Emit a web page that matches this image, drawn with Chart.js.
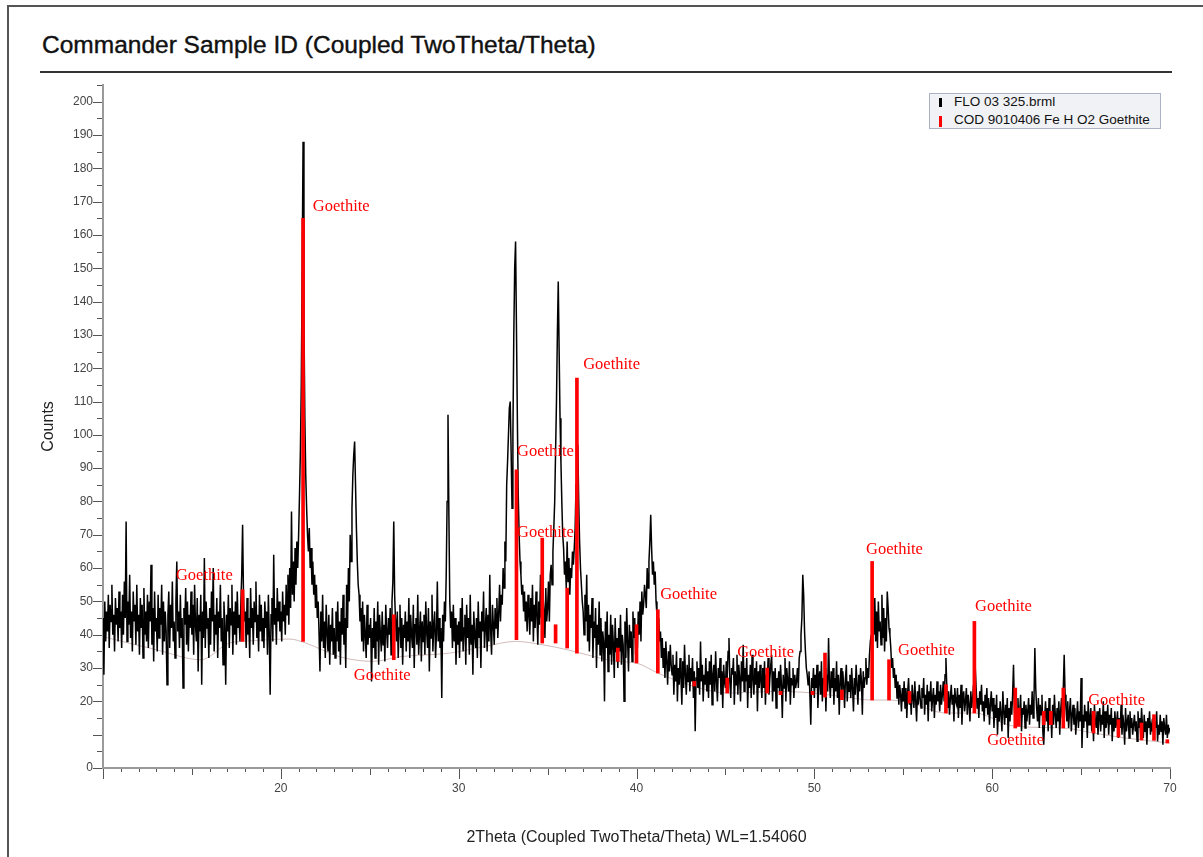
<!DOCTYPE html>
<html lang="en">
  <head>
    <meta charset="UTF-8" />
    <title>Commander Sample ID (Coupled TwoTheta/Theta)</title>
    <script src="https://cdn.jsdelivr.net/npm/chart.js"></script>
    <style>
      body { margin: 0; background: #fff; font-family: "Liberation Sans", Arial, sans-serif; }
      .moldura { position: absolute; left: 7px; top: 5px; width: 1300px; height: 900px;
        border-left: 2px solid #555; border-top: 2px solid #555; }
      .titulo { position: absolute; left: 42px; top: 30px; font-size: 24.5px; line-height: 30px; color: #111; white-space: nowrap; -webkit-text-stroke: 0.4px #111; }
      .regua { position: absolute; left: 40px; top: 71px; width: 1132px; height: 2px; background: #333; }
      #xrd { position: absolute; left: 0; top: 0; }
      .legenda { position: absolute; left: 929px; top: 93px; width: 230px; height: 34px;
        background: #f0f2f5; border: 1px solid #aab4c6; font-size: 13.5px; color: #111; }
      .legenda div { position: absolute; left: 24px; white-space: nowrap; line-height: 16px; }
      .legenda span { position: absolute; left: -15px; width: 3px; }
    </style>
  </head>

  <body>
    <div class="moldura"></div>
    <div class="titulo">Commander Sample ID (Coupled TwoTheta/Theta)</div>
    <div class="regua"></div>
    <canvas id="xrd" width="1203" height="857"></canvas>
    <div class="legenda">
      <div style="top: 0px"><span style="background:#000; top: 4px; height: 9px"></span>FLO 03 325.brml</div>
      <div style="top: 18px"><span style="background:#f00; top: 4px; height: 11px"></span>COD 9010406 Fe H O2 Goethite</div>
    </div>

    <script>
      // scan: 10 to 70 deg 2theta, one reading every 0.05 deg
      const scanInicio = 10;
      const scanPasso = 0.05;
      const contagens = [
        45,28,50,38,47,41,52,36,49,44,55,40,46,35,51,43,48,38,53,42,
        47,36,52,40,56,45,74,38,50,43,58,39,47,35,53,44,49,37,55,41,
        46,34,51,42,49,33,54,40,47,38,52,36,50,44,61,37,48,32,53,41,
        45,35,52,39,48,43,55,34,50,38,47,41,25,46,53,36,49,42,56,38,
        44,33,50,62,41,47,36,52,39,45,24,48,43,54,37,50,35,46,42,53,
        40,49,34,55,43,38,51,29,46,41,52,25,47,39,63,36,50,42,45,33,
        48,37,53,44,60,35,46,40,51,33,47,42,55,38,45,31,50,43,25,46,
        41,52,36,48,43,55,34,47,40,50,37,53,42,46,38,49,58,73,52,44,
        47,36,51,40,45,33,54,42,48,37,50,44,56,39,46,35,52,41,49,38,
        45,36,50,42,47,34,52,40,22,46,51,38,64,43,48,37,54,44,50,41,
        47,38,53,44,49,40,55,46,58,43,60,48,77,52,62,50,66,55,68,60,
        70,82,95,115,150,188,135,105,88,78,70,65,72,60,66,55,62,52,58,48,
        55,45,50,40,29,47,38,52,36,44,33,49,41,35,46,31,43,38,48,34,
        42,33,47,38,50,35,44,31,48,40,52,37,45,30,55,42,60,50,70,62,
        78,88,94,98,85,72,62,55,52,44,48,38,50,35,46,40,33,49,37,43,
        39,45,26,42,36,48,33,44,38,50,31,46,40,35,47,37,43,32,49,41,
        36,45,40,48,34,50,56,74,52,44,38,47,33,42,49,36,45,31,43,39,
        47,35,44,38,51,33,46,40,36,49,30,43,45,37,52,34,41,47,32,44,
        38,46,34,50,41,36,48,29,44,39,52,35,43,47,33,40,56,38,45,36,
        42,21,46,38,50,44,58,80,106,76,50,42,47,36,49,38,45,31,43,37,
        44,33,48,38,51,35,42,46,31,49,39,45,34,52,37,43,28,47,40,36,
        45,33,50,39,44,30,47,41,53,36,42,48,35,46,38,58,41,34,49,43,
        37,48,42,51,39,46,55,44,52,49,60,54,68,62,85,92,100,108,110,95,
        78,100,130,150,158,132,105,82,70,62,58,52,55,47,53,44,50,41,52,46,
        40,51,44,55,38,49,42,53,46,37,50,43,58,45,60,51,47,39,54,44,
        48,56,44,58,61,55,65,72,80,95,110,130,146,125,105,92,80,70,66,58,
        62,54,68,56,63,52,60,57,65,61,66,72,85,95,97,80,68,60,55,50,
        47,40,52,44,58,38,49,35,46,42,51,33,44,39,48,30,43,37,50,34,
        45,32,41,38,20,44,36,47,29,40,34,46,31,43,37,27,45,35,39,30,
        42,35,46,31,40,37,20,44,33,48,38,29,43,36,41,32,47,39,45,34,
        42,36,47,40,50,38,53,46,49,55,52,48,60,54,62,68,76,66,58,62,
        55,59,50,46,42,45,38,41,33,39,30,36,27,38,32,25,35,29,37,31,
        28,34,22,31,26,35,20,30,25,33,27,19,32,24,37,28,22,31,26,34,
        23,30,26,33,21,29,11,27,32,24,30,22,38,26,31,20,28,25,33,23,
        29,21,32,25,34,19,28,31,23,35,26,20,30,27,33,22,29,18,31,26,
        24,32,27,35,39,26,21,30,28,33,19,29,25,34,22,31,27,20,32,26,
        37,23,30,26,33,18,28,24,31,21,34,27,22,30,25,32,17,29,24,31,
        26,21,30,24,32,19,28,25,33,22,27,31,34,20,29,23,30,18,27,24,
        29,22,31,25,15,28,24,33,20,30,26,23,32,19,27,25,30,21,28,24,
        26,30,24,33,35,40,45,58,52,41,35,30,28,25,29,22,13,27,24,30,
        21,28,24,31,18,26,29,22,32,20,27,25,30,17,28,23,39,26,21,29,
        24,30,19,27,23,32,21,28,16,26,30,22,29,25,18,27,31,20,26,23,
        28,21,30,24,17,27,22,31,25,19,28,23,30,26,16,29,24,27,33,25,
        30,27,34,38,40,36,45,40,51,38,47,36,50,41,44,37,52,39,48,35,
        45,38,53,48,42,40,36,30,33,27,30,24,28,21,26,19,25,22,17,24,
        20,26,18,24,15,23,27,19,22,16,25,21,18,26,20,14,23,19,25,21,
        18,24,21,27,16,22,19,25,14,23,20,26,17,21,24,15,22,19,26,20,
        23,17,25,19,22,26,20,28,33,24,18,23,16,21,25,19,22,14,24,20,
        19,24,15,22,18,25,13,21,23,17,20,24,16,22,19,14,23,18,21,25,
        22,30,24,18,21,15,23,19,25,17,20,14,22,18,24,16,21,13,19,23,
        17,21,12,19,15,22,10,18,14,20,16,11,23,17,13,19,15,21,9,18,
        14,20,16,22,31,18,12,19,15,21,13,17,22,11,18,16,20,12,19,14,
        17,21,13,19,16,23,15,20,36,24,18,14,21,12,19,16,22,11,7,15,
        20,14,18,11,21,15,17,9,19,13,22,16,12,18,14,20,10,17,21,15,
        24,34,22,18,14,20,12,17,21,11,16,19,13,18,10,15,20,12,17,14,
        27,6,16,12,19,14,17,9,20,13,15,18,11,16,8,19,14,12,17,10,
        15,18,11,16,13,20,9,17,12,14,19,10,16,13,18,8,15,11,17,12,
        14,17,9,15,12,19,10,16,13,7,18,11,14,16,9,17,12,15,10,13,
        16,11,14,8,17,12,15,10,18,13,9,16,11,14,7,15,12,17,10,13,
        11,15,9,14,12,17,8,13,10,16,11,14,7,15,12,10,16,9,13,11,
        12
      ];

      // fitted background (faint curve under the pattern)
      const fundoAngulo = [10, 13, 15.5, 17.1, 17.9, 20.5, 21.4, 23.3, 25.2, 26.7, 29.5, 31.5, 33.2, 34.7, 36.1, 37.2, 38.9, 40, 41.2, 43.3, 45.1, 48, 49.9, 51.6, 53.2, 54.2, 55.4, 57.4, 59, 61.3, 64, 65.7, 67.1, 68.4, 70];
      const fundoValor = [39.4, 35.5, 32.5, 37.5, 38, 38.7, 37.5, 33.4, 32, 33.4, 34.5, 36.5, 38, 37, 35.5, 34, 32, 31.5, 28.5, 24.4, 22.5, 23, 22.5, 21.4, 20.4, 20.4, 19.5, 16.5, 16.5, 12.5, 12, 10.5, 9.3, 8.4, 7.5];

      // Goethite reference sticks: position, top and base (counts)
      const picoAngulo = [17.85, 21.25, 26.35, 33.25, 34.7, 35.45, 36.1, 36.65, 38.95, 40.0, 41.2, 43.25, 45.1, 47.35, 48.1, 49.9, 50.6, 51.55, 53.25, 54.2, 55.35, 57.4, 59.0, 61.3, 61.5, 62.9, 63.3, 64.0, 65.7, 67.1, 68.4, 69.1, 69.85];
      const picoTopo = [53.5, 165, 46, 89.5, 69, 43, 54, 117, 36, 43, 47.5, 26, 27, 30, 23, 23, 34.5, 23.4, 62, 32.5, 23, 25, 44, 24, 18, 17, 17, 24, 17, 14.5, 13.5, 16, 8.5];
      const picoBase = [38, 38, 32.5, 38.5, 37.5, 37.5, 36, 34.5, 32, 31.5, 28.5, 24.6, 22.5, 22.5, 22, 22, 21.3, 20.5, 20.4, 20.4, 19.5, 16.5, 16.5, 12, 12.5, 13, 13, 12, 10.5, 9.3, 8.4, 8.3, 7.5];

      // "Goethite" captions: left edge (2theta) and middle (counts)
      const rotuloAngulo = [14.1, 21.8, 24.1, 33.28, 33.28, 37.0, 41.33, 45.66, 52.91, 54.71, 59.04, 59.72, 65.4];
      const rotuloValor = [57.7, 168.6, 27.6, 95, 70.6, 121, 52, 34.6, 65.5, 35.2, 48.4, 8.1, 20.1];

      const padrao = contagens.map((c, i) => ({ x: scanInicio + i * scanPasso, y: c }));
      const fundo = fundoAngulo.map((a, i) => ({ x: a, y: fundoValor[i] }));
      const picos = picoAngulo.map((a, i) => ({ x: a, y: [picoBase[i], picoTopo[i]] }));

      const marcas = {
        id: "marcas",
        afterDraw(chart) {
          const ctx = chart.ctx;
          const x = chart.scales.x;
          const y = chart.scales.y;
          ctx.save();
          ctx.strokeStyle = "#555";
          ctx.lineWidth = 1;
          ctx.beginPath();
          y.ticks.forEach((t) => {
            const py = Math.round(y.getPixelForValue(t.value)) + 0.5;
            const len = t.value % 10 === 0 ? 10 : 6;
            ctx.moveTo(y.right - len, py);
            ctx.lineTo(y.right - 1, py);
          });
          x.ticks.forEach((t) => {
            const px = Math.round(x.getPixelForValue(t.value)) + 0.5;
            const len = t.value % 10 === 0 ? 11 : t.value % 5 === 0 ? 7 : 4;
            ctx.moveTo(px, x.top + 1);
            ctx.lineTo(px, x.top + len);
          });
          ctx.stroke();

          ctx.fillStyle = "#ff0000";
          ctx.font = '16.5px "Liberation Serif", "Times New Roman", serif';
          ctx.textBaseline = "middle";
          ctx.textAlign = "left";
          rotuloAngulo.forEach((a, i) => {
            ctx.fillText("Goethite", x.getPixelForValue(a), y.getPixelForValue(rotuloValor[i]));
          });
          ctx.restore();
        },
      };

      const grafico = document.getElementById("xrd");
      new Chart(grafico, {
        type: "line",
        data: {
          datasets: [
            {
              type: "bar",
              label: "COD 9010406 Fe H O2 Goethite",
              data: picos,
              backgroundColor: "#ff0000",
              borderWidth: 0,
              barThickness: 3,
              order: 0,
            },
            {
              label: "FLO 03 325.brml",
              data: padrao,
              borderColor: "#000",
              borderWidth: 1.5,
              pointRadius: 0,
              tension: 0,
              order: 1,
            },
            {
              label: "Background",
              data: fundo,
              borderColor: "rgba(205, 180, 180, 0.9)",
              borderWidth: 1,
              pointRadius: 0,
              cubicInterpolationMode: "monotone",
              order: 2,
            },
          ],
        },
        options: {
          responsive: false,
          animation: false,
          devicePixelRatio: 1,
          layout: { padding: { top: 85, right: 33, left: 0, bottom: 0 } },
          plugins: { legend: { display: false }, tooltip: { enabled: false } },
          scales: {
            x: {
              type: "linear",
              min: 10,
              max: 70,
              offset: false,
              grid: { display: false },
              border: { display: true, color: "#9a9a9a", width: 2 },
              ticks: {
                stepSize: 1,
                autoSkip: false,
                maxRotation: 0,
                padding: 5,
                color: "#444",
                font: { family: '"Liberation Sans", Arial, sans-serif', size: 12 },
                callback: (v) => (v % 10 === 0 && v > 10 ? v : ""),
              },
              title: {
                display: true,
                text: "2Theta (Coupled TwoTheta/Theta) WL=1.54060",
                color: "#222",
                font: { family: '"Liberation Sans", Arial, sans-serif', size: 16 },
                padding: { top: 0, bottom: 10 },
              },
              afterFit: (s) => { s.height = 89; },
            },
            y: {
              min: 0,
              max: 205,
              grid: { display: false },
              border: { display: true, color: "#9a9a9a", width: 2 },
              ticks: {
                stepSize: 5,
                autoSkip: false,
                padding: 2,
                color: "#444",
                font: { family: '"Liberation Sans", Arial, sans-serif', size: 12 },
                callback: (v) => (v % 10 === 0 && v !== 10 ? v : ""),
              },
              title: {
                display: true,
                text: "Counts",
                color: "#222",
                font: { family: '"Liberation Sans", Arial, sans-serif', size: 16 },
                padding: { top: 39, bottom: 0 },
              },
              afterFit: (s) => { s.width = 103; },
            },
          },
        },
        plugins: [marcas],
      });
    </script>
  </body>
</html>
